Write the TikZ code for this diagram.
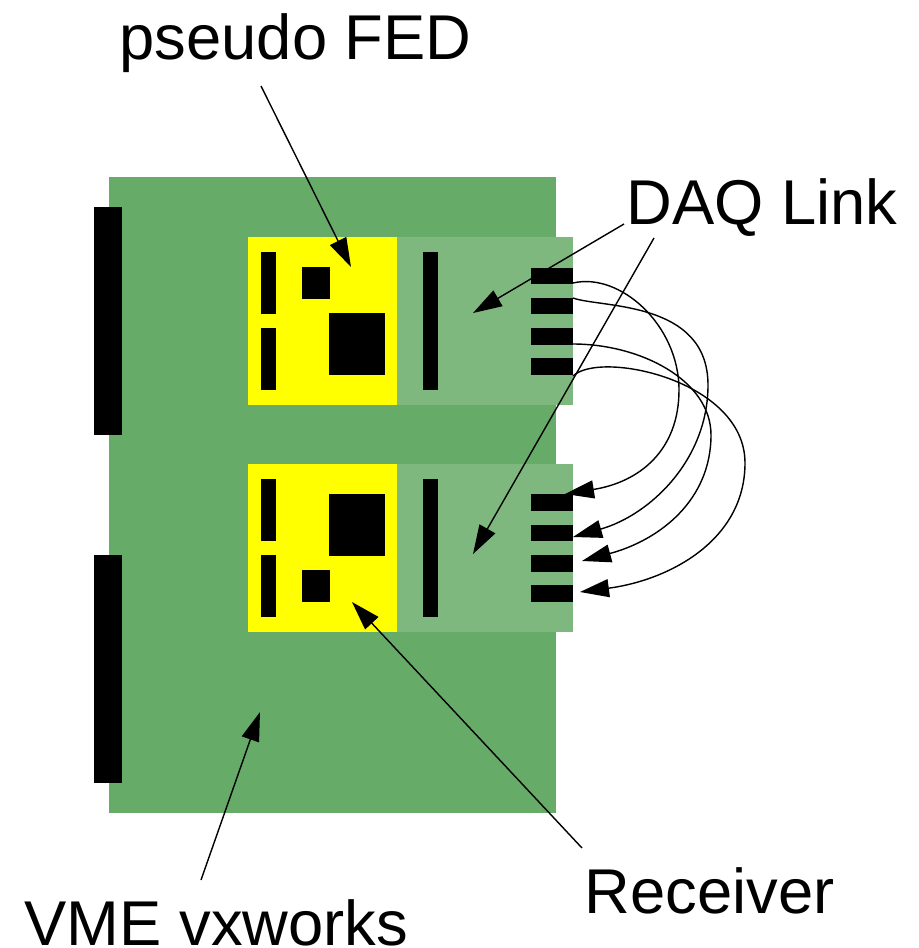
\documentclass[tikz,border=0pt]{standalone}
\usepackage{fontspec}
\setmainfont{Liberation Sans}
\usetikzlibrary{arrows.meta}
\definecolor{boardgreen}{RGB}{103,171,105}
\definecolor{mezzgreen}{RGB}{127,184,127}
\definecolor{fedyellow}{RGB}{255,255,0}
\tikzset{
	labeltext/.style={anchor=base west, inner sep=0pt, font=\fontsize{18}{20}\selectfont},
	chip/.style={fill=black, draw=none},
	pointer/.style={line width=0.4pt, -{Triangle[length=0.29cm, width=0.18cm]}},
	wire/.style={line width=0.4pt, -{Triangle[length=0.29cm, width=0.18cm]}}
}

\begin{document}
\begin{tikzpicture}[x=0.01cm, y=-0.01cm]
		%%%%% START %%%%%
		\useasboundingbox (0, 0) rectangle (919, 948);
		
		\fill[boardgreen] (108.5, 177) rectangle (556, 813);
		\fill[chip] (93.5, 207) rectangle (122, 435);
		\fill[chip] (93.5, 555) rectangle (122, 783);
		
		% upper card
		\fill[mezzgreen] (397, 237) rectangle (573, 405);
		\fill[fedyellow] (247.5, 237) rectangle (397, 405);
		\fill[chip] (261, 252) rectangle (276, 314);
		\fill[chip] (261, 328) rectangle (276, 390);
		\fill[chip] (302, 267) rectangle (330, 299);
		\fill[chip] (329, 313) rectangle (384.5, 375);
		\fill[chip] (423, 252) rectangle (438, 390);
		\fill[chip] (531, 267.5) rectangle (573, 284);
		\fill[chip] (531, 298) rectangle (573, 314);
		\fill[chip] (531, 328) rectangle (573, 344.5);
		\fill[chip] (531, 358) rectangle (573, 375);
		
		% lower card
		\fill[mezzgreen] (397, 464) rectangle (573, 632);
		\fill[fedyellow] (247.5, 464) rectangle (397, 632);
		\fill[chip] (261, 479) rectangle (276, 541);
		\fill[chip] (261, 555) rectangle (276, 617);
		\fill[chip] (302, 570) rectangle (330, 602);
		\fill[chip] (329, 494) rectangle (384.5, 556);
		\fill[chip] (423, 479) rectangle (438, 617);
		\fill[chip] (531, 494) rectangle (573, 511);
		\fill[chip] (531, 525) rectangle (573, 541);
		\fill[chip] (531, 555) rectangle (573, 571.5);
		\fill[chip] (531, 585) rectangle (573, 602);
		
		\node[labeltext] (pseudofed) at (119, 59) {pseudo FED};
		\node[labeltext] (daqlink) at (626, 224) {DAQ Link};
		\node[labeltext] (receiver) at (584, 913) {Receiver};
		\node[labeltext] (vme) at (24, 945) {VME vxworks};
		
		\coordinate (fedtail) at (261, 86);
		\coordinate (fedtip) at (351, 267);
		\coordinate (daqtailA) at (624, 224);
		\coordinate (daqtipA) at (473, 313);
		\coordinate (daqtailB) at (654, 238);
		\coordinate (daqtipB) at (473, 554);
		\coordinate (recvtail) at (582, 848);
		\coordinate (recvtip) at (352, 602);
		\coordinate (vmetail) at (201, 880);
		\coordinate (vmetip) at (260, 712);
		
		\draw[pointer] (fedtail) -- (fedtip);
		\draw[pointer] (daqtailA) -- (daqtipA);
		\draw[pointer] (daqtailB) -- (daqtipB);
		\draw[pointer] (recvtail) -- (recvtip);
		\draw[pointer] (vmetail) -- (vmetip);
		
		\coordinate (txA) at (573, 283);
		\coordinate (txB) at (573, 298);
		\coordinate (txC) at (573, 344);
		\coordinate (txD) at (573, 376);
		\coordinate (rxA) at (565, 494);
		\coordinate (rxB) at (573, 537);
		\coordinate (rxC) at (582, 561);
		\coordinate (rxD) at (580, 592);
		
		\draw[wire] (txA) .. controls (620, 272) and (679, 325) .. (679, 390) .. controls (679, 450) and (640, 482) .. (rxA);
		\draw[wire] (txB) .. controls (600, 308) and (708, 300) .. (708, 385) .. controls (708, 460) and (650, 515) .. (rxB);
		\draw[wire] (txC) .. controls (640, 344) and (711, 380) .. (711, 435) .. controls (711, 500) and (660, 540) .. (rxC);
		\draw[wire] (txD) .. controls (600, 350) and (745, 380) .. (745, 463) .. controls (745, 540) and (670, 580) .. (rxD);
		%%%%% END %%%%%
	\end{tikzpicture}
\end{document}
